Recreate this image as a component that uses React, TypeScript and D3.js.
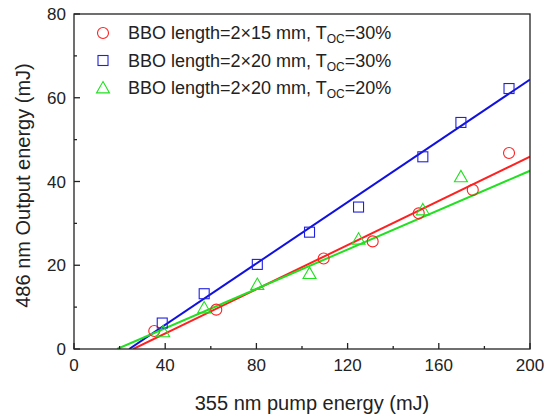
import React from "react";
import * as d3 from "d3";

const seriesNames = ["2×15 mm", "2×20 mm", "2×20 mm"];
const tocLabels = ["30%", "30%", "20%"];
const colors = ["#ff2020", "#2020e0", "#20e020"];
const symbols = ["circle", "square", "triangle"];

const redX = [35.2, 62.4, 109.5, 131, 151.2, 174.9, 190.8];
const redY = [4.3, 9.4, 21.6, 25.7, 32.4, 38.0, 46.8];
const blueX = [38.7, 57.1, 80.4, 103.3, 124.8, 153, 169.7, 190.8];
const blueY = [6.2, 13.2, 20.2, 27.9, 33.9, 45.9, 54.1, 62.2];
const greenX = [39.1, 57.1, 80.4, 103.3, 124.8, 153, 169.7];
const greenY = [4.1, 9.8, 15.4, 18.0, 26.2, 33.2, 41.1];

// linear fits: threshold (x-intercept) and slope
const fitThreshold = [26, 24.2, 18.9];
const fitSlope = [0.264, 0.366, 0.235];

const xTicks = [0, 40, 80, 120, 160, 200];
const xMinor = [20, 60, 100, 140, 180];
const yTicks = [0, 20, 40, 60, 80];
const yMinor = [10, 30, 50, 70];

export default function App() {
  const W = 545, H = 416;
  const L = 74, R = 530, T = 14, B = 349;
  const x = d3.scaleLinear().domain([0, 200]).range([L, R]);
  const y = d3.scaleLinear().domain([0, 80]).range([B, T]);
  const series = [
    { xs: redX, ys: redY },
    { xs: blueX, ys: blueY },
    { xs: greenX, ys: greenY },
  ];
  const font = "'Liberation Sans', Arial, sans-serif";

  const marker = (kind: string, cx: number, cy: number, color: string, key: any) => {
    if (kind === "circle")
      return <circle key={key} cx={cx} cy={cy} r={5.5} fill="none" stroke={color} strokeWidth={1.1} />;
    if (kind === "square")
      return <rect key={key} x={cx - 5} y={cy - 5} width={10} height={10} fill="none" stroke={color} strokeWidth={1.1} />;
    const s = 6.5;
    return (
      <path key={key} d={`M${cx},${cy - s} L${cx + s},${cy + s * 0.75} L${cx - s},${cy + s * 0.75} Z`}
        fill="none" stroke={color} strokeWidth={1.1} />
    );
  };

  const line = d3.line<[number, number]>().x(d => x(d[0])).y(d => y(d[1]));

  return (
    <svg width={W} height={H} style={{ position: "absolute", left: 0, top: 0, background: "#fff" }}>
      <defs>
        <clipPath id="plot"><rect x={L} y={T} width={R - L} height={B - T} /></clipPath>
      </defs>
      <rect x={0} y={0} width={W} height={H} fill="#fff" />
      {/* fit lines */}
      <g clipPath="url(#plot)">
        {fitThreshold.map((x0, i) => {
          const pts: [number, number][] = [[x0, 0], [200, fitSlope[i] * (200 - x0)]];
          return <path key={i} d={line(pts) || ""} fill="none" stroke={colors[i].replace("#2020e0", "#1010e0")} strokeWidth={2} />;
        })}
      </g>
      {/* markers */}
      {series.map((s, i) =>
        s.xs.map((xv, j) => marker(symbols[i], x(xv), y(s.ys[j]), colors[i], `${i}-${j}`))
      )}
      {/* axes box */}
      <rect x={L} y={T} width={R - L} height={B - T} fill="none" stroke="#222" strokeWidth={1.3} />
      {xTicks.map(t => (
        <g key={"x" + t}>
          <line x1={x(t)} x2={x(t)} y1={B} y2={B - 6} stroke="#222" strokeWidth={1.3} />
          <text x={x(t)} y={B + 22} textAnchor="middle" fontFamily={font} fontSize={17} fill="#222">{t}</text>
        </g>
      ))}
      {xMinor.map(t => (
        <line key={"xm" + t} x1={x(t)} x2={x(t)} y1={B} y2={B - 3} stroke="#222" strokeWidth={1.3} />
      ))}
      {yTicks.map(t => (
        <g key={"y" + t}>
          <line x1={L} x2={L + 6} y1={y(t)} y2={y(t)} stroke="#222" strokeWidth={1.3} />
          <text x={L - 8} y={y(t) + 6} textAnchor="end" fontFamily={font} fontSize={17} fill="#222">{t}</text>
        </g>
      ))}
      {yMinor.map(t => (
        <line key={"ym" + t} x1={L} x2={L + 3} y1={y(t)} y2={y(t)} stroke="#222" strokeWidth={1.3} />
      ))}
      <text x={312} y={410} textAnchor="middle" fontFamily={font} fontSize={20} fill="#222">355 nm pump energy (mJ)</text>
      <text transform={`translate(30,${(T + B) / 2 + 4}) rotate(-90)`} textAnchor="middle" fontFamily={font} fontSize={20} fill="#222">486 nm Output energy (mJ)</text>
      {/* legend */}
      {seriesNames.map((n, i) => {
        const ly = 33 + i * 27.5;
        return (
          <g key={"lg" + i}>
            {marker(symbols[i], 103, ly, colors[i], "lm" + i)}
            <text x={128} y={ly + 6} fontFamily={font} fontSize={18} fill="#222">
              {`BBO length=${n}, T`}
              <tspan fontSize={12} dy={4}>OC</tspan>
              <tspan dy={-4}>{`=${tocLabels[i]}`}</tspan>
            </text>
          </g>
        );
      })}
    </svg>
  );
}
